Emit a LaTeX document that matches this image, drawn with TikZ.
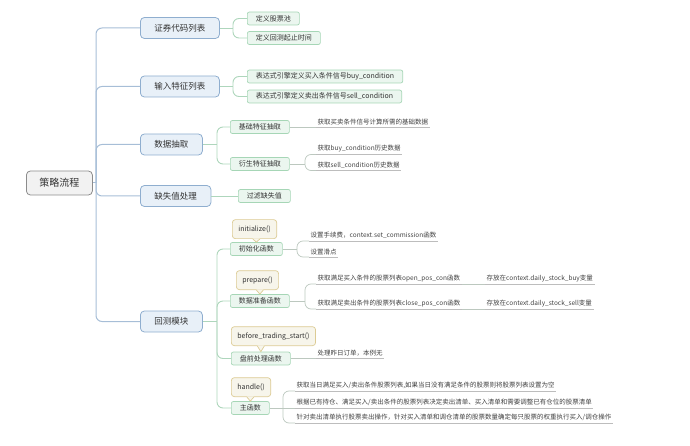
\documentclass[tikz,border=0pt]{standalone}
\usepackage{fontspec}
\setmainfont{Noto Sans CJK SC}
\usetikzlibrary{calc}
\definecolor{txt}{HTML}{333333}
\definecolor{leaftxt}{HTML}{404040}
\definecolor{rootfill}{HTML}{F2F2F2}
\definecolor{rootborder}{HTML}{8C8C8C}
\definecolor{bluefill}{HTML}{E8F0F8}
\definecolor{blueborder}{HTML}{8FAECF}
\definecolor{blueline}{HTML}{A7BED7}
\definecolor{greenfill}{HTML}{EBF6EF}
\definecolor{greenborder}{HTML}{A6D6B6}
\definecolor{greenline}{HTML}{AED6BC}
\definecolor{callfill}{HTML}{F7F5EB}
\definecolor{callborder}{HTML}{DCCB94}
\definecolor{leafline}{HTML}{BCC8BF}
\definecolor{ulinec}{HTML}{BDBDBD}
\begin{document}
\begin{tikzpicture}[x=1pt,y=-1pt,
  every node/.style={text=txt},
  rootbox/.style={draw=rootborder, fill=rootfill, rounded corners=4pt, line width=0.8pt, font=\fontsize{10}{12}\selectfont, minimum height=24pt, inner xsep=13pt, anchor=west},
  topicbox/.style={draw=blueborder, fill=bluefill, rounded corners=4pt, line width=0.8pt, font=\fontsize{8.5}{10}\selectfont, minimum height=21pt, inner xsep=14pt, anchor=west},
  subbox/.style={draw=greenborder, fill=greenfill, rounded corners=2pt, line width=0.7pt, font=\fontsize{7}{8}\selectfont, minimum height=13pt, inner xsep=8.5pt, inner ysep=1pt, anchor=west},
  callbox/.style={draw=callborder, fill=callfill, rounded corners=3pt, line width=0.7pt, font=\fontsize{7}{8}\selectfont, minimum height=19pt, inner xsep=6pt, anchor=south west},
  uline/.style={draw=ulinec, line width=0.7pt},
  leaf/.style={text=leaftxt, font=\fontsize{6.5}{8}\selectfont, inner xsep=1.5pt, inner ysep=2pt, anchor=south west, append after command={(\tikzlastnode.south west) edge[uline] (\tikzlastnode.south east)}},
  bline/.style={draw=blueline, line width=1pt, rounded corners=6pt},
  gline/.style={draw=greenline, line width=0.9pt, rounded corners=6pt},
  lline/.style={draw=leafline, line width=0.7pt, rounded corners=6pt},
  ptrside/.style={draw=callborder, line width=0.7pt},
]
\useasboundingbox (0,0) rectangle (690,446);

% root and topics
\node[rootbox] (root) at (26,183) {策略流程};
\node[topicbox] (t1) at (140,28) {证券代码列表};
\node[topicbox] (t2) at (140,86.5) {输入特征列表};
\node[topicbox] (t3) at (140,144.5) {数据抽取};
\node[topicbox] (t4) at (140,196) {缺失值处理};
\node[topicbox] (t5) at (140,321.5) {回测模块};

% subtopics
\node[subbox] (a1) at (247,18.5) {定义股票池};
\node[subbox] (a2) at (247,38) {定义回测起止时间};
\node[subbox] (b1) at (247,76.5) {表达式引擎定义买入条件信号buy\_condition};
\node[subbox] (b2) at (247,96.5) {表达式引擎定义卖出条件信号sell\_condition};
\node[subbox] (c1) at (230,127) {基础特征抽取};
\node[subbox] (c2) at (230,164) {衍生特征抽取};
\node[subbox] (d1) at (238,196) {过滤缺失值};
\node[subbox] (e1) at (230,249) {初始化函数};
\node[subbox] (e2) at (230,301) {数据准备函数};
\node[subbox] (e3) at (231,358.5) {盘前处理函数};
\node[subbox] (e4) at (231,408) {主函数};

% callouts
\node[callbox] (k1) at (232,239) {initialize()};
\node[callbox] (k2) at (236,290) {prepare()};
\node[callbox] (k3) at (231,346) {before\_trading\_start()};
\node[callbox] (k4) at (231,397) {handle()};
\foreach \k/\e in {k1/e1,k2/e2,k3/e3,k4/e4}{
  \coordinate (tip\k) at (\e.north);
  \path[fill=callfill] ($(tip\k |- \k.south)+(-3.5,-0.6)$) -- ($(tip\k |- \k.south)+(3.5,-0.6)$) -- (tip\k) -- cycle;
  \draw[ptrside] ($(tip\k |- \k.south)+(-3.5,0)$) -- (tip\k) -- ($(tip\k |- \k.south)+(3.5,0)$);
}

% leaves
\node[leaf] (l1) at (316,127) {获取买卖条件信号计算所需的基础数据};
\node[leaf] (l2) at (316,154.5) {获取buy\_condition历史数据};
\node[leaf] (l3) at (316,170.5) {获取sell\_condition历史数据};
\node[leaf] (l4) at (309,241) {设置手续费，context.set\_commission函数};
\node[leaf] (l5) at (309,257) {设置滑点};
\node[leaf] (l6) at (316,284) {获取满足买入条件的股票列表open\_pos\_con函数};
\node[leaf] (l7) at (316,309) {获取满足卖出条件的股票列表close\_pos\_con函数};
\node[leaf] (l8) at (485,284) {存放在context.daily\_stock\_buy变量};
\node[leaf] (l9) at (485,309) {存放在context.daily\_stock\_sell变量};
\node[leaf] (l10) at (316,358.5) {处理昨日订单，本例无};
\node[leaf] (m1) at (295,391) {获取当日满足买入/卖出条件股票列表,如果当日没有满足条件的股票则将股票列表设置为空};
\node[leaf] (m2) at (295,408) {根据已有持仓、满足买入/卖出条件的股票列表决定卖出清单、买入清单和需要调整已有仓位的股票清单};
\node[leaf] (m3) at (295,423) {针对卖出清单执行股票卖出操作，针对买入清单和调仓清单的股票数量确定每只股票的权重执行买入/调仓操作};

% root connectors
\coordinate (r0) at (96,183);
\draw[bline] (root.east) -- (r0);
\foreach \n in {t1,t2,t3,t4,t5} \draw[bline] (r0) |- (\n.west);

% topic connectors
\coordinate (s1) at (233,28);
\draw[gline] (t1.east) -- (s1);
\draw[gline] (s1) |- (a1.west);
\draw[gline] (s1) |- (a2.west);
\coordinate (s2) at (233,86.5);
\draw[gline] (t2.east) -- (s2);
\draw[gline] (s2) |- (b1.west);
\draw[gline] (s2) |- (b2.west);
\coordinate (s3) at (217,144.5);
\draw[gline] (t3.east) -- (s3);
\draw[gline] (s3) |- (c1.west);
\draw[gline] (s3) |- (c2.west);
\draw[gline] (t4.east) -- (d1.west);
\coordinate (s5) at (217,321.5);
\draw[gline] (t5.east) -- (s5);
\foreach \n in {e1,e2,e3,e4} \draw[gline] (s5) |- (\n.west);

% leaf connectors
\draw[lline] (c1.east) -- (l1.south west);
\coordinate (s6) at (305,164);
\draw[lline] (c2.east) -- (s6);
\draw[lline] (s6) |- (l2.south west);
\draw[lline] (s6) |- (l3.south west);
\coordinate (s7) at (297,249);
\draw[lline] (e1.east) -- (s7);
\draw[lline] (s7) |- (l4.south west);
\draw[lline] (s7) |- (l5.south west);
\coordinate (s8) at (305,301);
\draw[lline] (e2.east) -- (s8);
\draw[lline] (s8) |- (l6.south west);
\draw[lline] (s8) |- (l7.south west);
\draw[lline] (l6.south east) -- (l8.south west);
\draw[lline] (l7.south east) -- (l9.south west);
\draw[lline] (e3.east) -- (l10.south west);
\coordinate (s9) at (283,408);
\draw[lline] (e4.east) -- (m2.south west);
\draw[lline] (s9) |- (m1.south west);
\draw[lline] (s9) |- (m3.south west);
\end{tikzpicture}
\end{document}
